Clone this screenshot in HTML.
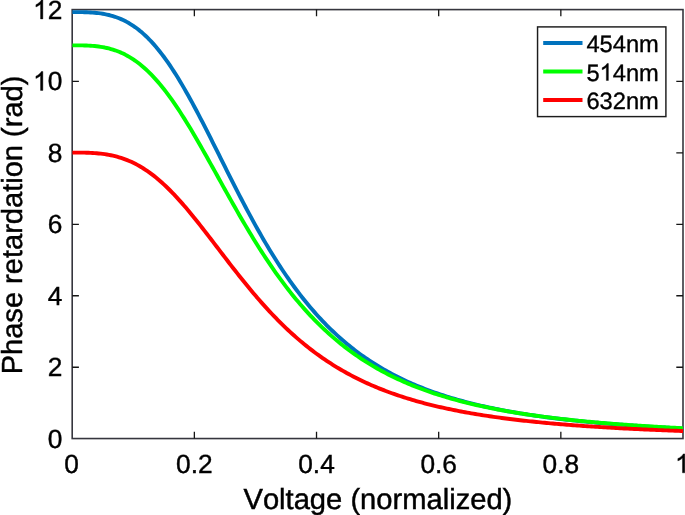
<!DOCTYPE html><html><head><meta charset="utf-8"><style>html,body{margin:0;padding:0;background:#fff;}body{width:685px;height:515px;position:relative;overflow:hidden;font-family:"Liberation Sans",sans-serif;}</style></head><body><svg width="685" height="515" viewBox="0 0 685 515" style="position:absolute;left:0;top:0;will-change:transform;text-rendering:geometricPrecision;font-kerning:none">
<rect x="0" y="0" width="685" height="515" fill="#fff"/>
<defs><clipPath id="c"><rect x="72.20" y="9.60" width="610.80" height="428.95"/></clipPath></defs>
<rect x="72.20" y="9.60" width="610.80" height="428.95" fill="none" stroke="#36363e" stroke-width="1.6"/>
<path d="M194.36 438.55v-6.70M194.36 9.60v6.70" stroke="#151515" stroke-width="1.3"/>
<path d="M316.52 438.55v-6.70M316.52 9.60v6.70" stroke="#151515" stroke-width="1.3"/>
<path d="M438.68 438.55v-6.70M438.68 9.60v6.70" stroke="#151515" stroke-width="1.3"/>
<path d="M560.84 438.55v-6.70M560.84 9.60v6.70" stroke="#151515" stroke-width="1.3"/>
<path d="M72.20 367.26h6.70M683.00 367.26h-6.70" stroke="#151515" stroke-width="1.3"/>
<path d="M72.20 295.77h6.70M683.00 295.77h-6.70" stroke="#151515" stroke-width="1.3"/>
<path d="M72.20 224.28h6.70M683.00 224.28h-6.70" stroke="#151515" stroke-width="1.3"/>
<path d="M72.20 152.78h6.70M683.00 152.78h-6.70" stroke="#151515" stroke-width="1.3"/>
<path d="M72.20 81.29h6.70M683.00 81.29h-6.70" stroke="#151515" stroke-width="1.3"/>
<g clip-path="url(#c)"><polyline points="72.20,12.10 74.24,12.10 76.27,12.11 78.31,12.11 80.34,12.13 82.38,12.16 84.42,12.20 86.45,12.26 88.49,12.34 90.52,12.44 92.56,12.58 94.60,12.74 96.63,12.94 98.67,13.17 100.70,13.44 102.74,13.76 104.78,14.13 106.81,14.54 108.85,15.01 110.88,15.54 112.92,16.12 114.96,16.77 116.99,17.48 119.03,18.26 121.06,19.12 123.10,20.04 125.14,21.05 127.17,22.13 129.21,23.29 131.24,24.54 133.28,25.87 135.32,27.29 137.35,28.80 139.39,30.39 141.42,32.08 143.46,33.86 145.50,35.73 147.53,37.70 149.57,39.76 151.60,41.91 153.64,44.16 155.68,46.50 157.71,48.93 159.75,51.46 161.78,54.08 163.82,56.78 165.86,59.58 167.89,62.46 169.93,65.43 171.96,68.47 174.00,71.60 176.04,74.81 178.07,78.10 180.11,81.45 182.14,84.88 184.18,88.37 186.22,91.92 188.25,95.54 190.29,99.21 192.32,102.94 194.36,106.71 196.40,110.53 198.43,114.39 200.47,118.29 202.50,122.23 204.54,126.19 206.58,130.18 208.61,134.20 210.65,138.23 212.68,142.28 214.72,146.34 216.76,150.41 218.79,154.49 220.83,158.57 222.86,162.64 224.90,166.71 226.94,170.78 228.97,174.83 231.01,178.86 233.04,182.89 235.08,186.89 237.12,190.87 239.15,194.82 241.19,198.75 243.22,202.65 245.26,206.51 247.30,210.35 249.33,214.15 251.37,217.91 253.40,221.64 255.44,225.33 257.48,228.97 259.51,232.58 261.55,236.14 263.58,239.65 265.62,243.12 267.66,246.55 269.69,249.93 271.73,253.26 273.76,256.55 275.80,259.79 277.84,262.98 279.87,266.12 281.91,269.21 283.94,272.25 285.98,275.25 288.02,278.19 290.05,281.09 292.09,283.94 294.12,286.74 296.16,289.49 298.20,292.19 300.23,294.85 302.27,297.46 304.30,300.02 306.34,302.54 308.38,305.01 310.41,307.43 312.45,309.81 314.48,312.15 316.52,314.44 318.56,316.69 320.59,318.89 322.63,321.06 324.66,323.18 326.70,325.26 328.74,327.30 330.77,329.30 332.81,331.26 334.84,333.18 336.88,335.06 338.92,336.91 340.95,338.72 342.99,340.50 345.02,342.24 347.06,343.94 349.10,345.61 351.13,347.25 353.17,348.86 355.20,350.43 357.24,351.97 359.28,353.48 361.31,354.96 363.35,356.41 365.38,357.83 367.42,359.22 369.46,360.59 371.49,361.92 373.53,363.23 375.56,364.52 377.60,365.78 379.64,367.01 381.67,368.22 383.71,369.40 385.74,370.56 387.78,371.70 389.82,372.81 391.85,373.90 393.89,374.97 395.92,376.02 397.96,377.05 400.00,378.06 402.03,379.05 404.07,380.02 406.10,380.97 408.14,381.90 410.18,382.81 412.21,383.70 414.25,384.58 416.28,385.44 418.32,386.28 420.36,387.11 422.39,387.92 424.43,388.72 426.46,389.50 428.50,390.26 430.54,391.01 432.57,391.75 434.61,392.47 436.64,393.18 438.68,393.87 440.72,394.55 442.75,395.22 444.79,395.88 446.82,396.52 448.86,397.15 450.90,397.77 452.93,398.38 454.97,398.97 457.00,399.56 459.04,400.13 461.08,400.70 463.11,401.25 465.15,401.80 467.18,402.33 469.22,402.85 471.26,403.37 473.29,403.87 475.33,404.37 477.36,404.86 479.40,405.33 481.44,405.80 483.47,406.27 485.51,406.72 487.54,407.16 489.58,407.60 491.62,408.03 493.65,408.45 495.69,408.87 497.72,409.27 499.76,409.67 501.80,410.07 503.83,410.45 505.87,410.83 507.90,411.21 509.94,411.57 511.98,411.94 514.01,412.29 516.05,412.64 518.08,412.98 520.12,413.32 522.16,413.65 524.19,413.97 526.23,414.29 528.26,414.61 530.30,414.92 532.34,415.22 534.37,415.52 536.41,415.82 538.44,416.11 540.48,416.39 542.52,416.67 544.55,416.95 546.59,417.22 548.62,417.49 550.66,417.75 552.70,418.01 554.73,418.26 556.77,418.51 558.80,418.76 560.84,419.00 562.88,419.24 564.91,419.48 566.95,419.71 568.98,419.93 571.02,420.16 573.06,420.38 575.09,420.60 577.13,420.81 579.16,421.02 581.20,421.23 583.24,421.43 585.27,421.63 587.31,421.83 589.34,422.03 591.38,422.22 593.42,422.41 595.45,422.59 597.49,422.78 599.52,422.96 601.56,423.14 603.60,423.31 605.63,423.48 607.67,423.65 609.70,423.82 611.74,423.99 613.78,424.15 615.81,424.31 617.85,424.47 619.88,424.63 621.92,424.78 623.96,424.93 625.99,425.08 628.03,425.23 630.06,425.37 632.10,425.52 634.14,425.66 636.17,425.80 638.21,425.94 640.24,426.07 642.28,426.20 644.32,426.34 646.35,426.47 648.39,426.59 650.42,426.72 652.46,426.84 654.50,426.97 656.53,427.09 658.57,427.21 660.60,427.33 662.64,427.44 664.68,427.56 666.71,427.67 668.75,427.78 670.78,427.89 672.82,428.00 674.86,428.11 676.89,428.21 678.93,428.32 680.96,428.42 683.00,428.52" fill="none" stroke="#0072BD" stroke-width="3.9" stroke-linejoin="round"/><polyline points="72.20,45.35 74.24,45.35 76.27,45.35 78.31,45.36 80.34,45.38 82.38,45.41 84.42,45.46 86.45,45.53 88.49,45.62 90.52,45.74 92.56,45.88 94.60,46.06 96.63,46.28 98.67,46.53 100.70,46.82 102.74,47.16 104.78,47.54 106.81,47.98 108.85,48.47 110.88,49.01 112.92,49.61 114.96,50.28 116.99,51.01 119.03,51.80 121.06,52.66 123.10,53.60 125.14,54.60 127.17,55.68 129.21,56.84 131.24,58.07 133.28,59.39 135.32,60.78 137.35,62.26 139.39,63.82 141.42,65.46 143.46,67.19 145.50,69.00 147.53,70.89 149.57,72.87 151.60,74.93 153.64,77.08 155.68,79.31 157.71,81.62 159.75,84.01 161.78,86.48 163.82,89.04 165.86,91.66 167.89,94.36 169.93,97.14 171.96,99.98 174.00,102.90 176.04,105.88 178.07,108.92 180.11,112.03 182.14,115.19 184.18,118.41 186.22,121.68 188.25,125.00 190.29,128.36 192.32,131.77 194.36,135.22 196.40,138.71 198.43,142.22 200.47,145.77 202.50,149.34 204.54,152.94 206.58,156.56 208.61,160.19 210.65,163.84 212.68,167.49 214.72,171.16 216.76,174.82 218.79,178.49 220.83,182.16 222.86,185.83 224.90,189.48 226.94,193.13 228.97,196.76 231.01,200.38 233.04,203.99 235.08,207.57 237.12,211.13 239.15,214.67 241.19,218.19 243.22,221.67 245.26,225.13 247.30,228.56 249.33,231.96 251.37,235.32 253.40,238.65 255.44,241.95 257.48,245.21 259.51,248.43 261.55,251.61 263.58,254.75 265.62,257.86 267.66,260.92 269.69,263.94 271.73,266.93 273.76,269.87 275.80,272.76 277.84,275.62 279.87,278.43 281.91,281.20 283.94,283.93 285.98,286.61 288.02,289.26 290.05,291.86 292.09,294.41 294.12,296.93 296.16,299.40 298.20,301.83 300.23,304.22 302.27,306.57 304.30,308.88 306.34,311.14 308.38,313.37 310.41,315.56 312.45,317.71 314.48,319.81 316.52,321.89 318.56,323.92 320.59,325.91 322.63,327.87 324.66,329.79 326.70,331.68 328.74,333.53 330.77,335.34 332.81,337.12 334.84,338.87 336.88,340.58 338.92,342.27 340.95,343.92 342.99,345.53 345.02,347.12 347.06,348.67 349.10,350.20 351.13,351.70 353.17,353.16 355.20,354.60 357.24,356.01 359.28,357.40 361.31,358.76 363.35,360.09 365.38,361.39 367.42,362.67 369.46,363.92 371.49,365.16 373.53,366.36 375.56,367.54 377.60,368.70 379.64,369.84 381.67,370.96 383.71,372.05 385.74,373.12 387.78,374.18 389.82,375.21 391.85,376.22 393.89,377.21 395.92,378.19 397.96,379.14 400.00,380.08 402.03,381.00 404.07,381.90 406.10,382.78 408.14,383.65 410.18,384.50 412.21,385.33 414.25,386.15 416.28,386.96 418.32,387.74 420.36,388.52 422.39,389.28 424.43,390.02 426.46,390.75 428.50,391.47 430.54,392.17 432.57,392.86 434.61,393.54 436.64,394.21 438.68,394.86 440.72,395.50 442.75,396.13 444.79,396.75 446.82,397.36 448.86,397.95 450.90,398.54 452.93,399.11 454.97,399.68 457.00,400.23 459.04,400.77 461.08,401.31 463.11,401.83 465.15,402.35 467.18,402.85 469.22,403.35 471.26,403.84 473.29,404.32 475.33,404.79 477.36,405.26 479.40,405.71 481.44,406.16 483.47,406.60 485.51,407.03 487.54,407.46 489.58,407.87 491.62,408.28 493.65,408.69 495.69,409.08 497.72,409.47 499.76,409.86 501.80,410.23 503.83,410.60 505.87,410.97 507.90,411.33 509.94,411.68 511.98,412.03 514.01,412.37 516.05,412.70 518.08,413.03 520.12,413.35 522.16,413.67 524.19,413.99 526.23,414.30 528.26,414.60 530.30,414.90 532.34,415.19 534.37,415.48 536.41,415.77 538.44,416.05 540.48,416.32 542.52,416.59 544.55,416.86 546.59,417.12 548.62,417.38 550.66,417.64 552.70,417.89 554.73,418.14 556.77,418.38 558.80,418.62 560.84,418.85 562.88,419.09 564.91,419.31 566.95,419.54 568.98,419.76 571.02,419.98 573.06,420.19 575.09,420.41 577.13,420.61 579.16,420.82 581.20,421.02 583.24,421.22 585.27,421.42 587.31,421.61 589.34,421.80 591.38,421.99 593.42,422.18 595.45,422.36 597.49,422.54 599.52,422.72 601.56,422.89 603.60,423.06 605.63,423.23 607.67,423.40 609.70,423.56 611.74,423.73 613.78,423.89 615.81,424.05 617.85,424.20 619.88,424.36 621.92,424.51 623.96,424.66 625.99,424.80 628.03,424.95 630.06,425.09 632.10,425.23 634.14,425.37 636.17,425.51 638.21,425.65 640.24,425.78 642.28,425.91 644.32,426.04 646.35,426.17 648.39,426.30 650.42,426.42 652.46,426.55 654.50,426.67 656.53,426.79 658.57,426.91 660.60,427.02 662.64,427.14 664.68,427.25 666.71,427.36 668.75,427.48 670.78,427.58 672.82,427.69 674.86,427.80 676.89,427.90 678.93,428.01 680.96,428.11 683.00,428.21" fill="none" stroke="#00FF00" stroke-width="3.9" stroke-linejoin="round"/><polyline points="72.20,152.58 74.24,152.58 76.27,152.59 78.31,152.59 80.34,152.61 82.38,152.63 84.42,152.67 86.45,152.72 88.49,152.78 90.52,152.87 92.56,152.98 94.60,153.10 96.63,153.26 98.67,153.44 100.70,153.66 102.74,153.90 104.78,154.18 106.81,154.50 108.85,154.85 110.88,155.25 112.92,155.69 114.96,156.17 116.99,156.70 119.03,157.28 121.06,157.91 123.10,158.58 125.14,159.32 127.17,160.10 129.21,160.94 131.24,161.84 133.28,162.80 135.32,163.81 137.35,164.88 139.39,166.02 141.42,167.21 143.46,168.47 145.50,169.78 147.53,171.16 149.57,172.60 151.60,174.10 153.64,175.66 155.68,177.28 157.71,178.96 159.75,180.70 161.78,182.50 163.82,184.36 165.86,186.27 167.89,188.23 169.93,190.25 171.96,192.32 174.00,194.44 176.04,196.61 178.07,198.82 180.11,201.08 182.14,203.38 184.18,205.72 186.22,208.10 188.25,210.51 190.29,212.96 192.32,215.44 194.36,217.95 196.40,220.48 198.43,223.04 200.47,225.62 202.50,228.22 204.54,230.83 206.58,233.46 208.61,236.11 210.65,238.76 212.68,241.42 214.72,244.08 216.76,246.75 218.79,249.42 220.83,252.09 222.86,254.75 224.90,257.41 226.94,260.06 228.97,262.71 231.01,265.34 233.04,267.96 235.08,270.56 237.12,273.16 239.15,275.73 241.19,278.29 243.22,280.82 245.26,283.34 247.30,285.83 249.33,288.30 251.37,290.75 253.40,293.17 255.44,295.57 257.48,297.94 259.51,300.28 261.55,302.59 263.58,304.88 265.62,307.14 267.66,309.37 269.69,311.56 271.73,313.73 273.76,315.87 275.80,317.98 277.84,320.05 279.87,322.10 281.91,324.11 283.94,326.10 285.98,328.05 288.02,329.97 290.05,331.86 292.09,333.72 294.12,335.55 296.16,337.35 298.20,339.12 300.23,340.86 302.27,342.56 304.30,344.24 306.34,345.89 308.38,347.51 310.41,349.10 312.45,350.66 314.48,352.20 316.52,353.70 318.56,355.18 320.59,356.63 322.63,358.06 324.66,359.45 326.70,360.82 328.74,362.17 330.77,363.49 332.81,364.79 334.84,366.06 336.88,367.30 338.92,368.53 340.95,369.72 342.99,370.90 345.02,372.05 347.06,373.19 349.10,374.30 351.13,375.38 353.17,376.45 355.20,377.50 357.24,378.52 359.28,379.53 361.31,380.52 363.35,381.49 365.38,382.43 367.42,383.36 369.46,384.28 371.49,385.17 373.53,386.05 375.56,386.91 377.60,387.75 379.64,388.58 381.67,389.39 383.71,390.19 385.74,390.97 387.78,391.73 389.82,392.48 391.85,393.22 393.89,393.94 395.92,394.65 397.96,395.34 400.00,396.02 402.03,396.69 404.07,397.35 406.10,397.99 408.14,398.62 410.18,399.24 412.21,399.85 414.25,400.44 416.28,401.03 418.32,401.60 420.36,402.16 422.39,402.71 424.43,403.26 426.46,403.79 428.50,404.31 430.54,404.82 432.57,405.32 434.61,405.82 436.64,406.30 438.68,406.78 440.72,407.24 442.75,407.70 444.79,408.15 446.82,408.59 448.86,409.02 450.90,409.45 452.93,409.87 454.97,410.28 457.00,410.68 459.04,411.08 461.08,411.47 463.11,411.85 465.15,412.22 467.18,412.59 469.22,412.95 471.26,413.31 473.29,413.66 475.33,414.00 477.36,414.34 479.40,414.67 481.44,414.99 483.47,415.31 485.51,415.63 487.54,415.94 489.58,416.24 491.62,416.54 493.65,416.83 495.69,417.12 497.72,417.40 499.76,417.68 501.80,417.96 503.83,418.23 505.87,418.49 507.90,418.75 509.94,419.01 511.98,419.26 514.01,419.51 516.05,419.75 518.08,419.99 520.12,420.23 522.16,420.46 524.19,420.69 526.23,420.91 528.26,421.13 530.30,421.35 532.34,421.56 534.37,421.77 536.41,421.98 538.44,422.18 540.48,422.38 542.52,422.58 544.55,422.78 546.59,422.97 548.62,423.16 550.66,423.34 552.70,423.52 554.73,423.70 556.77,423.88 558.80,424.05 560.84,424.23 562.88,424.39 564.91,424.56 566.95,424.72 568.98,424.89 571.02,425.04 573.06,425.20 575.09,425.35 577.13,425.51 579.16,425.66 581.20,425.80 583.24,425.95 585.27,426.09 587.31,426.23 589.34,426.37 591.38,426.51 593.42,426.64 595.45,426.77 597.49,426.91 599.52,427.03 601.56,427.16 603.60,427.29 605.63,427.41 607.67,427.53 609.70,427.65 611.74,427.77 613.78,427.89 615.81,428.00 617.85,428.11 619.88,428.23 621.92,428.34 623.96,428.45 625.99,428.55 628.03,428.66 630.06,428.76 632.10,428.87 634.14,428.97 636.17,429.07 638.21,429.17 640.24,429.26 642.28,429.36 644.32,429.45 646.35,429.55 648.39,429.64 650.42,429.73 652.46,429.82 654.50,429.91 656.53,430.00 658.57,430.08 660.60,430.17 662.64,430.25 664.68,430.33 666.71,430.41 668.75,430.50 670.78,430.58 672.82,430.65 674.86,430.73 676.89,430.81 678.93,430.88 680.96,430.96 683.00,431.03" fill="none" stroke="#FF0000" stroke-width="3.9" stroke-linejoin="round"/></g>
<g font-family="Liberation Sans, sans-serif" font-size="26.3" fill="#000" stroke="#000" stroke-width="0.4">
<text x="64.19" y="472.80">0</text>
<text x="176.08" y="472.80">0.2</text>
<text x="298.24" y="472.80">0.4</text>
<text x="420.40" y="472.80">0.6</text>
<text x="542.56" y="472.80">0.8</text>
<path transform="translate(674.99,472.80) scale(0.01284,-0.01284)" d="M763 0L583 0L583 1147Q518 1085 412.5 1023Q307 961 223 930L223 1104Q374 1175 487 1276Q600 1377 647 1472L763 1472Z" fill="#000" stroke="#000" stroke-width="31.1"/>
<text x="47.67" y="447.85">0</text>
<text x="47.67" y="376.36">2</text>
<text x="47.67" y="304.87">4</text>
<text x="47.67" y="233.38">6</text>
<text x="47.67" y="161.88">8</text>
<path transform="translate(33.05,90.39) scale(0.01284,-0.01284)" d="M763 0L583 0L583 1147Q518 1085 412.5 1023Q307 961 223 930L223 1104Q374 1175 487 1276Q600 1377 647 1472L763 1472Z" fill="#000" stroke="#000" stroke-width="31.1"/><text x="47.67" y="90.39">0</text>
<path transform="translate(33.05,18.90) scale(0.01284,-0.01284)" d="M763 0L583 0L583 1147Q518 1085 412.5 1023Q307 961 223 930L223 1104Q374 1175 487 1276Q600 1377 647 1472L763 1472Z" fill="#000" stroke="#000" stroke-width="31.1"/><text x="47.67" y="18.90">2</text>
</g>
<g font-family="Liberation Sans, sans-serif" font-size="29.15" fill="#000" stroke="#000" stroke-width="0.45">
<text x="377.9" y="508.8" text-anchor="middle">Voltage (normalized)</text>
<text transform="translate(21.5,224.98) rotate(-90)" text-anchor="middle" font-size="29.05">Phase retardation (rad)</text>
</g>
<rect x="537.55" y="26.90" width="128.35" height="89.70" fill="#fff" stroke="#1c1c1c" stroke-width="1.45"/>
<g font-family="Liberation Sans, sans-serif" font-size="23.7" fill="#000" stroke="#000" stroke-width="0.35">
<path d="M543.2 43.00H582.5" stroke="#0072BD" stroke-width="3.9"/>
<text x="586.40" y="52.00">454nm</text>
<path d="M543.2 71.50H582.5" stroke="#00FF00" stroke-width="3.9"/>
<text x="586.40" y="80.50">5</text><path transform="translate(599.58,80.50) scale(0.01157,-0.01157)" d="M763 0L583 0L583 1147Q518 1085 412.5 1023Q307 961 223 930L223 1104Q374 1175 487 1276Q600 1377 647 1472L763 1472Z" fill="#000" stroke="#000" stroke-width="30.2"/><text x="612.76" y="80.50">4nm</text>
<path d="M543.2 100.00H582.5" stroke="#FF0000" stroke-width="3.9"/>
<text x="586.40" y="109.00">632nm</text>
</g>
</svg></body></html>
